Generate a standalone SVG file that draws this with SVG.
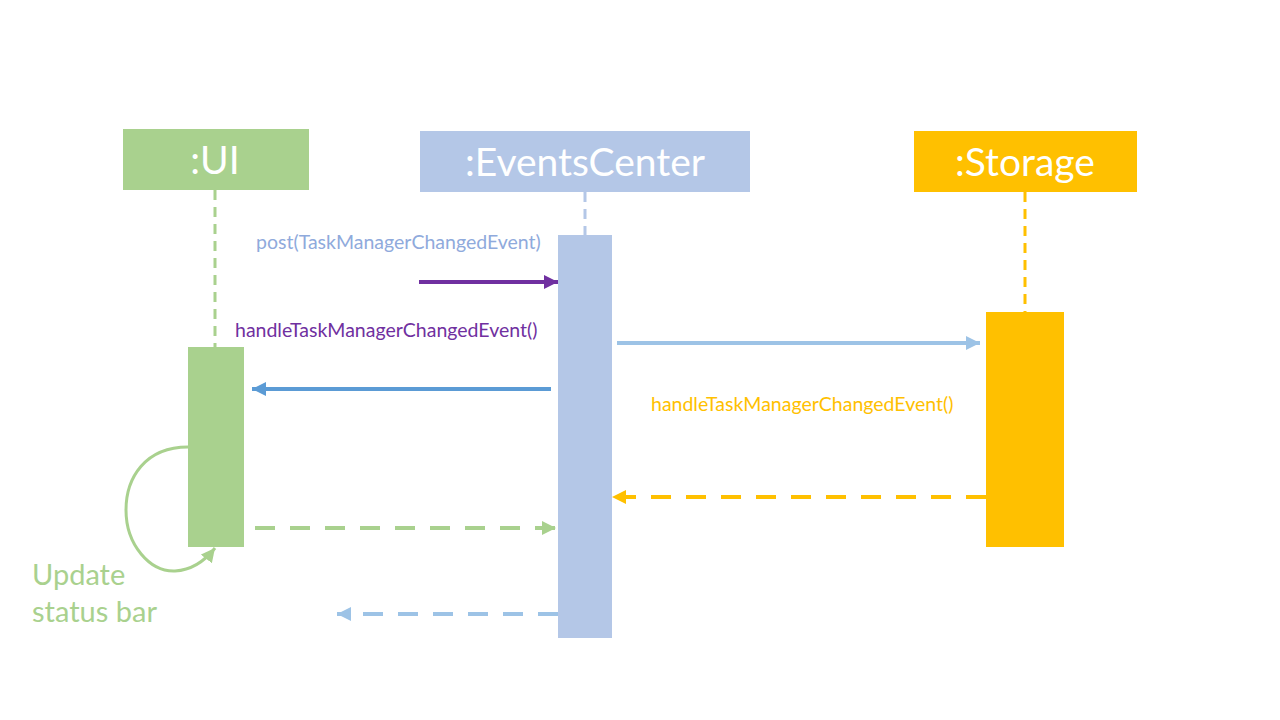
<svg xmlns="http://www.w3.org/2000/svg" width="1280" height="720" viewBox="0 0 1280 720">
<style>
.t{font-family:Lato,"Open Sans","Liberation Sans",sans-serif}
.title{font-size:39px;fill:#fff;text-anchor:middle}
.lbl{font-size:19.5px}
</style>
<defs>
<marker id="mPurple" markerUnits="userSpaceOnUse" markerWidth="16" markerHeight="16" refX="14" refY="7" orient="auto"><path d="M0,0 L14,7 L0,14 Z" fill="#7030A0"/></marker>
<marker id="mLblue" markerUnits="userSpaceOnUse" markerWidth="16" markerHeight="16" refX="14" refY="7" orient="auto"><path d="M0,0 L14,7 L0,14 Z" fill="#9DC3E6"/></marker>
<marker id="mBlue" markerUnits="userSpaceOnUse" markerWidth="16" markerHeight="16" refX="14" refY="7" orient="auto"><path d="M0,0 L14,7 L0,14 Z" fill="#5B9BD5"/></marker>
<marker id="mYellow" markerUnits="userSpaceOnUse" markerWidth="16" markerHeight="16" refX="14" refY="7" orient="auto"><path d="M0,0 L14,7 L0,14 Z" fill="#FFC000"/></marker>
<marker id="mGreen" markerUnits="userSpaceOnUse" markerWidth="16" markerHeight="16" refX="14" refY="7" orient="auto"><path d="M0,0 L14,7 L0,14 Z" fill="#A9D18E"/></marker>
</defs>
<rect width="1280" height="720" fill="#fff"/>

<g id="ui">
<line x1="215" y1="190" x2="215" y2="347" stroke="#A9D18E" stroke-width="3" stroke-dasharray="10,7"/>
<rect x="123" y="129" width="186" height="61" fill="#A9D18E"/>
<text class="t title" x="215" y="174">:UI</text>
<rect x="188" y="347" width="56" height="200" fill="#A9D18E"/>
</g>

<g id="eventscenter">
<line x1="585" y1="192" x2="585" y2="235" stroke="#B4C7E7" stroke-width="3" stroke-dasharray="10,7"/>
<rect x="420" y="131" width="330" height="61" fill="#B4C7E7"/>
<text class="t title" x="585" y="176">:EventsCenter</text>
<rect x="558" y="235" width="54" height="403" fill="#B4C7E7"/>
</g>

<g id="storage">
<line x1="1025" y1="192" x2="1025" y2="312" stroke="#FFC000" stroke-width="3" stroke-dasharray="10,7"/>
<rect x="914" y="131" width="223" height="61" fill="#FFC000"/>
<text class="t title" x="1025" y="176">:Storage</text>
<rect x="986" y="312" width="78" height="235" fill="#FFC000"/>
</g>

<g id="connectors" fill="none">
<line x1="419" y1="282" x2="558" y2="282" stroke="#7030A0" stroke-width="4" marker-end="url(#mPurple)"/>
<line x1="617" y1="343" x2="980" y2="343" stroke="#9DC3E6" stroke-width="4" marker-end="url(#mLblue)"/>
<line x1="551" y1="389" x2="252" y2="389" stroke="#5B9BD5" stroke-width="4" marker-end="url(#mBlue)"/>
<line x1="986" y1="497" x2="612" y2="497" stroke="#FFC000" stroke-width="4" stroke-dasharray="20,15" marker-end="url(#mYellow)"/>
<line x1="255" y1="528" x2="556" y2="528" stroke="#A9D18E" stroke-width="4" stroke-dasharray="20,15" marker-end="url(#mGreen)"/>
<line x1="558" y1="614" x2="337" y2="614" stroke="#9DC3E6" stroke-width="4" stroke-dasharray="20,15" marker-end="url(#mLblue)"/>
<path d="M188,447 C145,447 126,478 126,510 C126,545 150,572 175,571 C192,570 204,562 215,548" stroke="#A9D18E" stroke-width="3" marker-end="url(#mGreen)"/>
</g>

<g id="labels">
<text class="t lbl" x="256" y="249" fill="#8FAADC">post(TaskManagerChangedEvent)</text>
<text class="t lbl" x="235" y="337" fill="#7030A0">handleTaskManagerChangedEvent()</text>
<text class="t lbl" x="651" y="411" fill="#FFC000">handleTaskManagerChangedEvent()</text>
<text class="t" x="32" y="585" font-size="29" fill="#A9D18E">Update</text>
<text class="t" x="32" y="622" font-size="29" fill="#A9D18E">status bar</text>
</g>
</svg>
